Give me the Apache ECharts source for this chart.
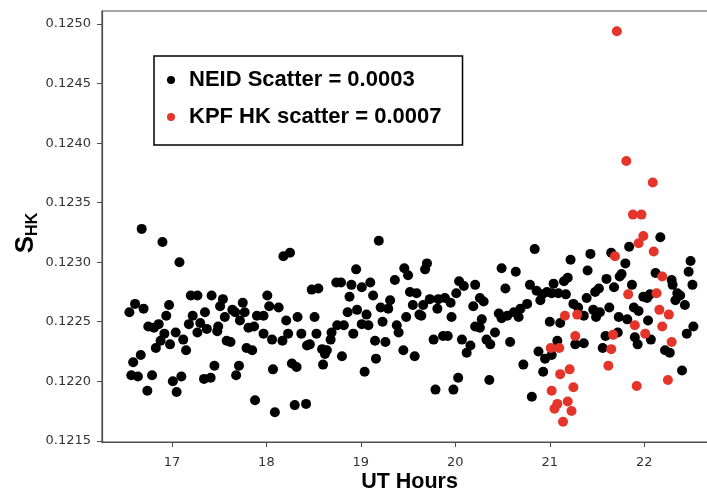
<!DOCTYPE html>
<html>
<head>
<meta charset="utf-8">
<script src="https://cdn.jsdelivr.net/npm/echarts@6/dist/echarts.min.js"></script>
<style>html,body{margin:0;padding:0;background:#fff}#c{width:707px;height:493px}</style>
</head>
<body>
<div id="c"></div>
<script>
const xTicks = [17, 18, 19, 20, 21, 22];
const yTicks = [0.1215, 0.1220, 0.1225, 0.1230, 0.1235, 0.1240, 0.1245, 0.1250];
const legendNames = ['NEID Scatter = 0.0003', 'KPF HK scatter = 0.0007'];

const neidPoints = [
[16.68,0.12328],[16.90,0.12317],[17.08,0.12300],[18.18,0.12305],[18.25,0.12308],[17.20,0.12272],[17.27,0.12272],[17.42,0.12272],[17.54,0.12269],[17.51,0.12263],
[18.01,0.12272],[16.61,0.12265],[16.55,0.12258],[16.70,0.12261],[16.97,0.12264],[16.94,0.12255],[17.22,0.12255],[17.35,0.12258],[17.64,0.12260],[17.67,0.12258],
[17.75,0.12266],[17.77,0.12258],[18.03,0.12263],[18.13,0.12262],[17.90,0.12255],[17.97,0.12255],[17.56,0.12254],[18.21,0.12251],[18.33,0.12254],[16.75,0.12246],
[16.81,0.12245],[16.86,0.12248],[17.04,0.12241],[16.92,0.12240],[16.88,0.12234],[16.83,0.12228],[16.98,0.12231],[17.12,0.12235],[17.15,0.12226],[17.18,0.12248],
[17.27,0.12241],[17.30,0.12249],[17.37,0.12244],[17.48,0.12242],[17.49,0.12246],[17.58,0.12234],[17.62,0.12233],[17.72,0.12251],[17.81,0.12245],[17.87,0.12246],
[17.79,0.12228],[17.85,0.12226],[17.97,0.12240],[18.06,0.12235],[18.17,0.12234],[18.23,0.12240],[16.67,0.12222],[16.59,0.12216],[16.57,0.12205],[16.64,0.12204],
[16.79,0.12205],[16.74,0.12192],[17.01,0.12200],[17.10,0.12204],[17.05,0.12191],[17.34,0.12202],[17.41,0.12203],[17.45,0.12213],[17.71,0.12213],[17.68,0.12205],
[18.07,0.12210],[18.27,0.12215],[18.32,0.12212],[17.88,0.12184],[18.09,0.12174],[18.30,0.12180],[19.19,0.12318],[18.95,0.12294],[19.46,0.12295],[19.50,0.12289],
[19.70,0.12299],[19.68,0.12294],[19.36,0.12285],[18.74,0.12283],[18.79,0.12283],[19.10,0.12283],[18.90,0.12281],[19.01,0.12279],[18.48,0.12277],[18.55,0.12278],
[18.88,0.12271],[19.13,0.12272],[20.04,0.12284],[20.09,0.12280],[20.21,0.12281],[20.01,0.12274],[19.52,0.12275],[19.59,0.12274],[19.31,0.12268],[19.21,0.12262],
[19.29,0.12261],[19.55,0.12264],[19.73,0.12269],[19.82,0.12269],[19.89,0.12270],[19.66,0.12264],[19.81,0.12261],[19.95,0.12266],[20.26,0.12270],[20.30,0.12267],
[20.19,0.12263],[18.96,0.12260],[19.06,0.12256],[18.86,0.12258],[18.51,0.12254],[19.48,0.12254],[19.62,0.12256],[19.64,0.12255],[19.96,0.12254],[20.28,0.12252],
[19.23,0.12250],[19.38,0.12247],[18.75,0.12247],[18.82,0.12247],[19.01,0.12248],[19.08,0.12247],[20.21,0.12246],[18.37,0.12240],[18.53,0.12240],[18.46,0.12231],
[18.43,0.12230],[18.59,0.12227],[18.64,0.12226],[18.62,0.12223],[18.68,0.12235],[18.69,0.12241],[18.92,0.12240],[19.40,0.12241],[19.15,0.12234],[19.26,0.12233],
[19.45,0.12226],[19.57,0.12221],[18.80,0.12221],[19.16,0.12219],[18.60,0.12214],[19.04,0.12208],[19.77,0.12235],[19.87,0.12238],[19.92,0.12238],[20.07,0.12235],
[20.16,0.12230],[20.12,0.12224],[20.33,0.12235],[20.03,0.12203],[19.79,0.12193],[19.98,0.12193],[20.36,0.12201],[18.42,0.12181],[22.17,0.12321],[21.84,0.12313],
[21.65,0.12308],[21.43,0.12307],[20.84,0.12311],[21.22,0.12302],[22.49,0.12301],[21.80,0.12299],[20.49,0.12295],[20.64,0.12292],[21.40,0.12293],[22.47,0.12292],
[22.12,0.12291],[21.76,0.12290],[21.74,0.12288],[21.60,0.12286],[21.19,0.12287],[21.15,0.12284],[20.79,0.12281],[21.04,0.12282],[22.29,0.12285],[22.30,0.12281],
[22.51,0.12281],[21.87,0.12281],[21.68,0.12279],[21.52,0.12278],[21.48,0.12275],[20.86,0.12276],[20.92,0.12273],[20.97,0.12275],[21.02,0.12274],[21.09,0.12274],
[21.17,0.12273],[20.53,0.12278],[21.99,0.12271],[22.06,0.12273],[22.03,0.12270],[22.35,0.12274],[22.38,0.12272],[22.33,0.12268],[21.39,0.12270],[20.90,0.12268],
[21.25,0.12265],[21.30,0.12262],[21.89,0.12262],[21.94,0.12259],[22.43,0.12264],[21.63,0.12262],[20.76,0.12265],[20.69,0.12261],[20.62,0.12258],[20.67,0.12254],
[20.46,0.12257],[20.55,0.12255],[20.49,0.12253],[21.46,0.12260],[21.53,0.12258],[21.49,0.12254],[21.36,0.12255],[21.73,0.12254],[21.82,0.12252],[22.04,0.12251],
[21.00,0.12250],[21.11,0.12249],[22.52,0.12246],[20.26,0.12245],[20.42,0.12241],[20.37,0.12231],[20.58,0.12233],[21.08,0.12234],[21.27,0.12231],[21.36,0.12232],
[21.59,0.12238],[21.72,0.12241],[21.56,0.12228],[21.90,0.12237],[21.93,0.12231],[22.07,0.12235],[22.22,0.12226],[22.27,0.12224],[22.45,0.12240],[20.88,0.12225],
[20.95,0.12219],[21.02,0.12222],[20.72,0.12214],[20.93,0.12208],[20.81,0.12187],[22.40,0.12209]
];

const kpfPoints = [
[21.71,0.12494],[21.81,0.12385],[22.09,0.12367],[21.88,0.12340],[21.97,0.12340],[21.99,0.12322],[21.94,0.12316],[22.10,0.12309],[21.69,0.12305],[22.19,0.12288],
[21.83,0.12273],[22.13,0.12274],[22.16,0.12260],[22.26,0.12256],[21.16,0.12255],[21.29,0.12256],[21.90,0.12247],[22.19,0.12246],[22.01,0.12240],[21.67,0.12239],
[21.27,0.12238],[22.29,0.12233],[21.01,0.12228],[21.10,0.12228],[21.65,0.12227],[21.62,0.12213],[21.11,0.12206],[21.21,0.12210],[21.92,0.12196],[22.25,0.12201],
[21.02,0.12192],[21.25,0.12195],[21.08,0.12181],[21.05,0.12177],[21.19,0.12183],[21.23,0.12175],[21.14,0.12166]
];

const chart = echarts.init(document.getElementById('c'), null, {renderer: 'canvas'});
const axisColor = '#4d4d4d';
const tickFont = {fontFamily: 'DejaVu Sans', fontSize: 13, color: '#333'};
chart.setOption({
  animation: false,
  backgroundColor: '#fff',
  grid: {left: 102, right: -10, top: 11, bottom: 51, show: true, borderColor: axisColor, borderWidth: 1.2, outerBoundsMode: 'none', containLabel: false},
  legend: {
    orient: 'vertical', left: 154, top: 56,
    data: legendNames,
    icon: 'circle', itemWidth: 8, itemHeight: 8, itemGap: 11,
    padding: [11, 21, 15, 13],
    borderColor: '#000', borderWidth: 1.5, borderRadius: 0,
    textStyle: {fontFamily: 'Liberation Sans', fontSize: 22, fontWeight: 'bold', color: '#000', lineHeight: 26, padding: [0, 0, 0, 9]}
  },
  xAxis: {
    type: 'value', min: 16.26, max: 22.77,
    name: 'UT Hours', nameLocation: 'middle', nameGap: 29, nameMoveOverlap: false,
    nameTextStyle: {fontFamily: 'Liberation Sans', fontSize: 21.5, fontWeight: 'bold', color: '#000'},
    axisLine: {show: true, lineStyle: {color: axisColor, width: 1.2}},
    axisTick: {show: true, length: 5, inside: false, customValues: xTicks, lineStyle: {color: axisColor}},
    axisLabel: Object.assign({margin: 14, customValues: xTicks, formatter: v => String(v)}, tickFont),
    splitLine: {show: false}
  },
  yAxis: {
    type: 'value', min: 0.12149, max: 0.12511,
    name: '{s|S}{sub|HK}', nameLocation: 'middle', nameGap: 61, nameRotate: 90, nameMoveOverlap: false,
    nameTextStyle: {
      padding: [0, 13, 0, 0],
      rich: {
        s: {fontFamily: 'Liberation Sans', fontSize: 26, fontWeight: 'bold', color: '#000', verticalAlign: 'bottom', padding: [0, 0, 2, 0]},
        sub: {fontFamily: 'Liberation Sans', fontSize: 16, fontWeight: 'bold', color: '#000', verticalAlign: 'bottom'}
      }
    },
    axisLine: {show: true, lineStyle: {color: axisColor, width: 1.2}},
    axisTick: {show: true, length: 5, inside: false, customValues: yTicks, lineStyle: {color: axisColor}},
    axisLabel: Object.assign({margin: 11, customValues: yTicks, formatter: v => v.toFixed(4)}, tickFont),
    splitLine: {show: false}
  },
  series: [
    {name: legendNames[0], type: 'scatter', data: neidPoints, symbolSize: 10, itemStyle: {color: '#000', opacity: 1}},
    {name: legendNames[1], type: 'scatter', data: kpfPoints, symbolSize: 10, itemStyle: {color: '#e5352b', opacity: 1}}
  ]
});
</script>
</body>
</html>
